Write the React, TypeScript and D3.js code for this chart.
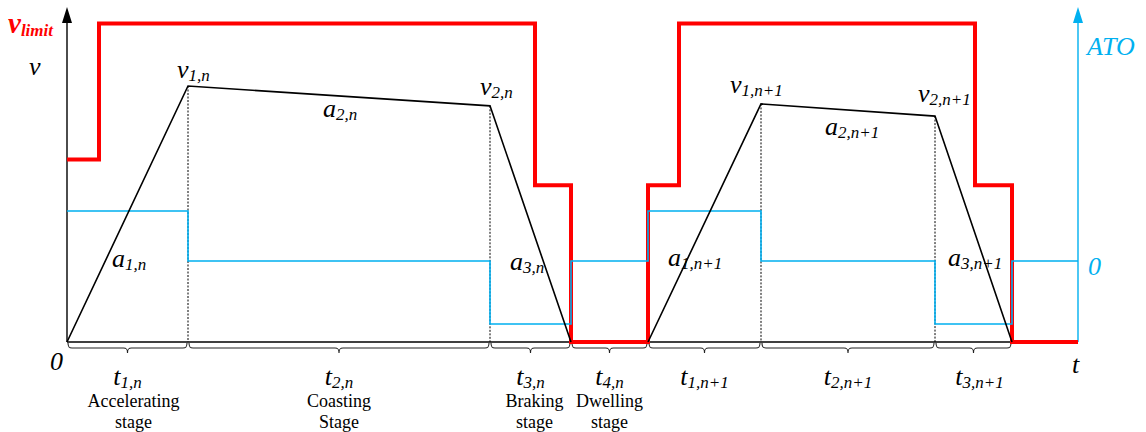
import React from "react";
import * as d3 from "d3";

// Stage boundaries on the time axis (arbitrary time units)
const stageTimes = [0, 12.1, 42.3, 50.4, 58.1, 69.4, 86.8, 94.5];
const endTime = 101.1;

// Speed profile of two consecutive runs: accelerate, coast, brake
const speedTimesN = [0, 12.1, 42.3, 50.4];
const speedValuesN = [0, 8.0, 7.38, 0];
const speedTimesN1 = [58.1, 69.4, 86.8, 94.5];
const speedValuesN1 = [0, 7.44, 7.06, 0];

// Speed limit (step function, value holds from each time on)
const limitTimes = [0, 3.2, 46.8, 50.4, 58.1, 61.2, 90.8, 94.5, 101.1];
const limitValues = [5.7, 9.95, 4.9, 0, 4.9, 9.95, 4.9, 0, 0];

// ATO command level (step function)
const atoTimes = [0, 12.1, 42.3, 50.4, 58.1, 69.4, 86.8, 94.5, 101.1];
const atoValues = [1, 0, -1.26, 0, 1, 0, -1.26, 0, 0];

// Labels under each stage brace
const durationLabels = [
  ["t", "1,n"],
  ["t", "2,n"],
  ["t", "3,n"],
  ["t", "4,n"],
  ["t", "1,n+1"],
  ["t", "2,n+1"],
  ["t", "3,n+1"],
];
const stageNames = [
  ["Accelerating", "stage"],
  ["Coasting", "Stage"],
  ["Braking", "stage"],
  ["Dwelling", "stage"],
  null,
  null,
  null,
];

const RED = "#ff0000";
const BLUE = "#00b0f0";
const FONT = "'Liberation Serif', 'Times New Roman', serif";

type SubProps = {
  x: number;
  y: number;
  main: string;
  sub: string;
  size?: number;
  subSize?: number;
  fill?: string;
  weight?: string | number;
  anchor?: "start" | "middle" | "end";
  dy?: number;
};

function SubText({ x, y, main, sub, size = 26, subSize = 17, fill = "#000", weight = "normal", anchor = "start", dy = 3 }: SubProps) {
  return (
    <text x={x} y={y} fontFamily={FONT} fontStyle="italic" fill={fill} fontWeight={weight} textAnchor={anchor}>
      <tspan fontSize={size}>{main}</tspan>
      <tspan fontSize={subSize} dy={dy}>{sub}</tspan>
    </text>
  );
}

// Curly brace spanning x1..x2, hanging below y0
function bracePath(x1: number, x2: number, y0: number): string {
  const xm = (x1 + x2) / 2;
  const h = 5;
  const r = 4;
  return [
    `M${x1 + 1},${y0}`,
    `C${x1 + 1},${y0 + h - 1} ${x1 + 2},${y0 + h} ${x1 + r + 1},${y0 + h}`,
    `L${xm - r},${y0 + h}`,
    `C${xm - 1},${y0 + h} ${xm},${y0 + h + 1} ${xm},${y0 + h + 5}`,
    `C${xm},${y0 + h + 1} ${xm + 1},${y0 + h} ${xm + r},${y0 + h}`,
    `L${x2 - r - 1},${y0 + h}`,
    `C${x2 - 2},${y0 + h} ${x2 - 1},${y0 + h - 1} ${x2 - 1},${y0}`,
  ].join(" ");
}

export default function App() {
  const width = 1146;
  const height = 432;

  const x = d3.scaleLinear().domain([0, endTime]).range([67, 1078]);
  const y = d3.scaleLinear().domain([0, 10.5]).range([342, 6]);
  const yA = d3.scaleLinear().domain([0, 1]).range([261, 211]);

  const lineV = d3
    .line<[number, number]>()
    .x((d) => x(d[0]))
    .y((d) => y(d[1]));
  const stepV = d3
    .line<[number, number]>()
    .x((d) => x(d[0]))
    .y((d) => y(d[1]))
    .curve(d3.curveStepAfter);
  const stepA = d3
    .line<[number, number]>()
    .x((d) => x(d[0]))
    .y((d) => yA(d[1]))
    .curve(d3.curveStepAfter);

  const speedN = speedTimesN.map((t, i) => [t, speedValuesN[i]] as [number, number]);
  const speedN1 = speedTimesN1.map((t, i) => [t, speedValuesN1[i]] as [number, number]);
  const limit = limitTimes.map((t, i) => [t, limitValues[i]] as [number, number]);
  const ato = atoTimes.map((t, i) => [t, atoValues[i]] as [number, number]);

  const braceSegments = stageTimes.slice(0, 7).map((t, i) => [x(t), x(stageTimes[i + 1])]);

  // Dotted guides below the corner points of the speed profile
  const guides: [number, number][] = [speedN[1], speedN[2], speedN1[1], speedN1[2]];

  const y0 = y(0);
  const axisTop = 23;
  const xLeft = x(0);
  const xRight = x(endTime);

  // Horizontal nudges for the stage names
  const stageShift = [6, 0, 4, 0, 0, 0, 6];

  return (
    <svg width={width} height={height} style={{ display: "block", position: "absolute", left: 0, top: 0 }}>
      <rect width={width} height={height} fill="#fff" />

      {/* time axis */}
      <line x1={xLeft} x2={x(94.5)} y1={y0} y2={y0} stroke="#000" strokeWidth={1.6} />

      {/* left speed axis */}
      <line x1={xLeft} x2={xLeft} y1={y0} y2={axisTop} stroke="#000" strokeWidth={1.4} />
      <path d={`M${xLeft},7 L${xLeft - 5},${axisTop} L${xLeft + 5},${axisTop} Z`} fill="#000" />

      {/* right ATO axis */}
      <line x1={xRight} x2={xRight} y1={y0} y2={axisTop} stroke={BLUE} strokeWidth={1.4} />
      <path d={`M${xRight},7 L${xRight - 5},${axisTop} L${xRight + 5},${axisTop} Z`} fill={BLUE} />

      {/* dotted guides */}
      {guides.map((p, i) => (
        <line
          key={i}
          x1={x(p[0])}
          x2={x(p[0])}
          y1={y(p[1])}
          y2={y0}
          stroke="#000"
          strokeWidth={1}
          strokeDasharray="2,1.5"
        />
      ))}

      {/* braces */}
      {braceSegments.map(([a, b], i) => (
        <path key={i} d={bracePath(a, b, y0 + 1)} fill="none" stroke="#222" strokeWidth={1.1} />
      ))}

      {/* speed limit */}
      <path d={stepV(limit) || ""} fill="none" stroke={RED} strokeWidth={4} strokeLinejoin="miter" />

      {/* ATO command */}
      <path d={stepA(ato) || ""} fill="none" stroke={BLUE} strokeWidth={1.6} />

      {/* speed profile */}
      <path d={lineV(speedN) || ""} fill="none" stroke="#000" strokeWidth={1.6} />
      <path d={lineV(speedN1) || ""} fill="none" stroke="#000" strokeWidth={1.6} />

      {/* axis captions */}
      <SubText x={8} y={33} main="v" sub="limit" size={29} subSize={17} fill={RED} weight="bold" dy={3} />
      <text x={29} y={75} fontFamily={FONT} fontStyle="italic" fontSize={26}>v</text>
      <text x={1087} y={55} fontFamily={FONT} fontStyle="italic" fontSize={26} fill={BLUE}>ATO</text>
      <text x={1088} y={275} fontFamily={FONT} fontStyle="italic" fontSize={26} fill={BLUE}>0</text>
      <text x={50} y={370} fontFamily={FONT} fontStyle="italic" fontSize={26}>0</text>
      <text x={1072} y={373} fontFamily={FONT} fontStyle="italic" fontSize={26}>t</text>

      {/* corner and slope labels */}
      <SubText x={177} y={78} main="v" sub="1,n" />
      <SubText x={480} y={95} main="v" sub="2,n" />
      <SubText x={323} y={117} main="a" sub="2,n" />
      <SubText x={112} y={267} main="a" sub="1,n" />
      <SubText x={510} y={270} main="a" sub="3,n" />
      <SubText x={730} y={93} main="v" sub="1,n+1" />
      <SubText x={918} y={102} main="v" sub="2,n+1" />
      <SubText x={825} y={135} main="a" sub="2,n+1" />
      <SubText x={668} y={266} main="a" sub="1,n+1" />
      <SubText x={948} y={266} main="a" sub="3,n+1" />

      {/* stage durations and names */}
      {braceSegments.map(([a, b], i) => {
        const cx = (a + b) / 2;
        const names = stageNames[i];
        return (
          <g key={i}>
            <SubText x={cx + (i === 6 ? 6 : 0)} y={385} main={durationLabels[i][0]} sub={durationLabels[i][1]} anchor="middle" dy={3} />
            {names && (
              <g fontFamily={FONT} fontSize={18} textAnchor="middle">
                <text x={cx + stageShift[i]} y={407}>{names[0]}</text>
                <text x={cx + stageShift[i]} y={428}>{names[1]}</text>
              </g>
            )}
          </g>
        );
      })}
    </svg>
  );
}
